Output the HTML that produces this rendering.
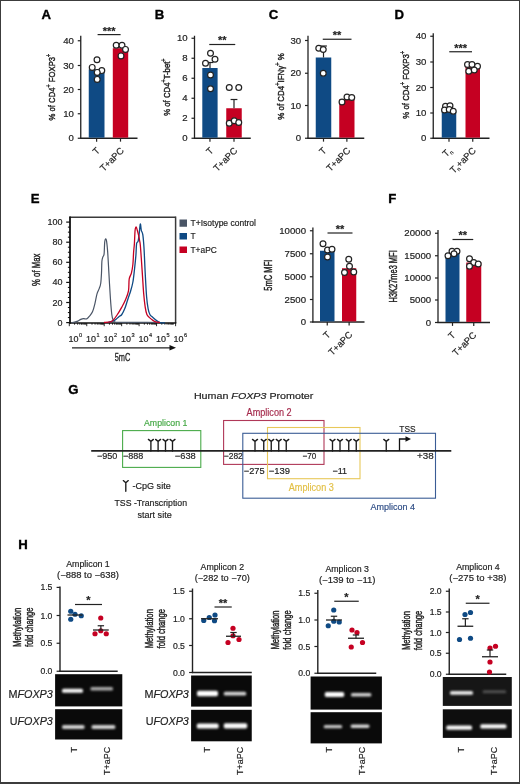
<!DOCTYPE html>
<html><head><meta charset="utf-8"><style>
html,body{margin:0;padding:0;background:#fff;}
body{width:520px;height:784px;overflow:hidden;position:relative;}
svg{position:absolute;left:0;top:0;font-family:"Liberation Sans", sans-serif;will-change:transform;}
.frame{position:absolute;left:0;top:0;width:518px;height:781px;border:1px solid #3c3c3c;border-bottom:2px solid #3c3c3c;}
</style></head><body>
<svg width="520" height="784" viewBox="0 0 520 784">
<text x="41.5" y="19.3" font-size="13.2" text-anchor="start" font-weight="bold" fill="#000" stroke="#000" stroke-width="0.35">A</text>
<line x1="80.75" y1="35.75" x2="80.75" y2="138.85" stroke="#222" stroke-width="1.3" />
<line x1="80.15" y1="138.25" x2="137.5" y2="138.25" stroke="#222" stroke-width="1.3" />
<line x1="77.75" y1="138.25" x2="80.75" y2="138.25" stroke="#222" stroke-width="1.2" />
<text x="73.85" y="141.25" font-size="8.4" text-anchor="end" font-weight="normal" fill="#222" stroke="#222" stroke-width="0.18" textLength="5.35" lengthAdjust="spacingAndGlyphs" >0</text>
<line x1="77.75" y1="113.75" x2="80.75" y2="113.75" stroke="#222" stroke-width="1.2" />
<text x="73.85" y="116.75" font-size="8.4" text-anchor="end" font-weight="normal" fill="#222" stroke="#222" stroke-width="0.18" textLength="10.7" lengthAdjust="spacingAndGlyphs" >10</text>
<line x1="77.75" y1="89.5" x2="80.75" y2="89.5" stroke="#222" stroke-width="1.2" />
<text x="73.85" y="92.5" font-size="8.4" text-anchor="end" font-weight="normal" fill="#222" stroke="#222" stroke-width="0.18" textLength="10.7" lengthAdjust="spacingAndGlyphs" >20</text>
<line x1="77.75" y1="65.5" x2="80.75" y2="65.5" stroke="#222" stroke-width="1.2" />
<text x="73.85" y="68.5" font-size="8.4" text-anchor="end" font-weight="normal" fill="#222" stroke="#222" stroke-width="0.18" textLength="10.7" lengthAdjust="spacingAndGlyphs" >30</text>
<line x1="77.75" y1="40.75" x2="80.75" y2="40.75" stroke="#222" stroke-width="1.2" />
<text x="73.85" y="43.75" font-size="8.4" text-anchor="end" font-weight="normal" fill="#222" stroke="#222" stroke-width="0.18" textLength="10.7" lengthAdjust="spacingAndGlyphs" >40</text>
<rect x="88.75" y="69.3" width="15.75" height="68.35000000000001" fill="#0f4a84"/>
<line x1="96.625" y1="138.25" x2="96.625" y2="141.65" stroke="#222" stroke-width="1.2" />
<rect x="112.8" y="48.2" width="15.399999999999991" height="89.45" fill="#c50022"/>
<line x1="120.5" y1="138.25" x2="120.5" y2="141.65" stroke="#222" stroke-width="1.2" />
<line x1="97.6" y1="34.6" x2="120.6" y2="34.6" stroke="#222" stroke-width="1.2" />
<text x="109.1" y="34.5" font-size="11" text-anchor="middle" font-weight="bold" fill="#222" stroke="#222" stroke-width="0.18" >***</text>
<circle cx="97" cy="59.7" r="2.9" fill="#fff" stroke="#222" stroke-width="1.2"/>
<circle cx="92.2" cy="67.4" r="2.9" fill="#fff" stroke="#222" stroke-width="1.2"/>
<circle cx="101.8" cy="70.6" r="2.9" fill="#fff" stroke="#222" stroke-width="1.2"/>
<circle cx="97.2" cy="72.4" r="2.9" fill="#fff" stroke="#222" stroke-width="1.2"/>
<circle cx="97.2" cy="79.4" r="2.9" fill="#fff" stroke="#222" stroke-width="1.2"/>
<circle cx="116.2" cy="45.3" r="2.9" fill="#fff" stroke="#222" stroke-width="1.2"/>
<circle cx="122" cy="45.3" r="2.9" fill="#fff" stroke="#222" stroke-width="1.2"/>
<circle cx="125.5" cy="49.4" r="2.9" fill="#fff" stroke="#222" stroke-width="1.2"/>
<circle cx="121" cy="55.9" r="2.9" fill="#fff" stroke="#222" stroke-width="1.2"/>
<text transform="translate(55.2,87.1) rotate(-90)" x="0" y="0" font-size="9.9" text-anchor="middle" fill="#222" stroke="#222" stroke-width="0.42" textLength="66.7" lengthAdjust="spacingAndGlyphs">% of CD4<tspan dy="-3.8" font-size="7">+</tspan><tspan dy="3.8"> FOXP3</tspan><tspan dy="-3.8" font-size="7">+</tspan></text>
<text transform="translate(100.5,151.3) rotate(-45)" x="0" y="0" font-size="9.3" text-anchor="end" fill="#222" stroke="#222" stroke-width="0.18">T</text>
<text transform="translate(124.5,151.3) rotate(-45)" x="0" y="0" font-size="9.3" text-anchor="end" fill="#222" stroke="#222" stroke-width="0.18">T+aPC</text>
<text x="154.8" y="19.3" font-size="13.2" text-anchor="start" font-weight="bold" fill="#000" stroke="#000" stroke-width="0.35">B</text>
<line x1="194.5" y1="35.75" x2="194.5" y2="138.85" stroke="#222" stroke-width="1.3" />
<line x1="193.9" y1="138.25" x2="250.75" y2="138.25" stroke="#222" stroke-width="1.3" />
<line x1="191.5" y1="138.25" x2="194.5" y2="138.25" stroke="#222" stroke-width="1.2" />
<text x="187.6" y="141.25" font-size="8.4" text-anchor="end" font-weight="normal" fill="#222" stroke="#222" stroke-width="0.18" textLength="5.35" lengthAdjust="spacingAndGlyphs" >0</text>
<line x1="191.5" y1="118.25" x2="194.5" y2="118.25" stroke="#222" stroke-width="1.2" />
<text x="187.6" y="121.25" font-size="8.4" text-anchor="end" font-weight="normal" fill="#222" stroke="#222" stroke-width="0.18" textLength="5.35" lengthAdjust="spacingAndGlyphs" >2</text>
<line x1="191.5" y1="98.25" x2="194.5" y2="98.25" stroke="#222" stroke-width="1.2" />
<text x="187.6" y="101.25" font-size="8.4" text-anchor="end" font-weight="normal" fill="#222" stroke="#222" stroke-width="0.18" textLength="5.35" lengthAdjust="spacingAndGlyphs" >4</text>
<line x1="191.5" y1="78.25" x2="194.5" y2="78.25" stroke="#222" stroke-width="1.2" />
<text x="187.6" y="81.25" font-size="8.4" text-anchor="end" font-weight="normal" fill="#222" stroke="#222" stroke-width="0.18" textLength="5.35" lengthAdjust="spacingAndGlyphs" >6</text>
<line x1="191.5" y1="58.25" x2="194.5" y2="58.25" stroke="#222" stroke-width="1.2" />
<text x="187.6" y="61.25" font-size="8.4" text-anchor="end" font-weight="normal" fill="#222" stroke="#222" stroke-width="0.18" textLength="5.35" lengthAdjust="spacingAndGlyphs" >8</text>
<line x1="191.5" y1="38.25" x2="194.5" y2="38.25" stroke="#222" stroke-width="1.2" />
<text x="187.6" y="41.25" font-size="8.4" text-anchor="end" font-weight="normal" fill="#222" stroke="#222" stroke-width="0.18" textLength="10.7" lengthAdjust="spacingAndGlyphs" >10</text>
<rect x="202.3" y="68" width="15.299999999999983" height="69.65" fill="#0f4a84"/>
<line x1="209.95" y1="138.25" x2="209.95" y2="141.65" stroke="#222" stroke-width="1.2" />
<rect x="226.25" y="108.25" width="15.5" height="29.400000000000006" fill="#c50022"/>
<line x1="234.0" y1="138.25" x2="234.0" y2="141.65" stroke="#222" stroke-width="1.2" />
<line x1="209.25" y1="44.5" x2="235.25" y2="44.5" stroke="#222" stroke-width="1.2" />
<text x="222.25" y="44.4" font-size="11" text-anchor="middle" font-weight="bold" fill="#222" stroke="#222" stroke-width="0.18" >**</text>
<line x1="210" y1="62.5" x2="210" y2="68" stroke="#222" stroke-width="1.2" />
<line x1="206.6" y1="62.5" x2="213.4" y2="62.5" stroke="#222" stroke-width="1.2" />
<line x1="234" y1="99.5" x2="234" y2="108.25" stroke="#222" stroke-width="1.2" />
<line x1="230.6" y1="99.5" x2="237.4" y2="99.5" stroke="#222" stroke-width="1.2" />
<circle cx="210.5" cy="53.25" r="2.9" fill="#fff" stroke="#222" stroke-width="1.2"/>
<circle cx="205.5" cy="63.25" r="2.9" fill="#fff" stroke="#222" stroke-width="1.2"/>
<circle cx="215" cy="59.25" r="2.9" fill="#fff" stroke="#222" stroke-width="1.2"/>
<circle cx="210.5" cy="75" r="2.9" fill="#fff" stroke="#222" stroke-width="1.2"/>
<circle cx="210.5" cy="88.75" r="2.9" fill="#fff" stroke="#222" stroke-width="1.2"/>
<circle cx="229.25" cy="87.5" r="2.9" fill="#fff" stroke="#222" stroke-width="1.2"/>
<circle cx="238.75" cy="87.5" r="2.9" fill="#fff" stroke="#222" stroke-width="1.2"/>
<circle cx="229.25" cy="123.25" r="2.9" fill="#fff" stroke="#222" stroke-width="1.2"/>
<circle cx="234.25" cy="120.75" r="2.9" fill="#fff" stroke="#222" stroke-width="1.2"/>
<circle cx="238.75" cy="122.5" r="2.9" fill="#fff" stroke="#222" stroke-width="1.2"/>
<text transform="translate(169.8,87.1) rotate(-90)" x="0" y="0" font-size="9.9" text-anchor="middle" fill="#222" stroke="#222" stroke-width="0.42" textLength="57.4" lengthAdjust="spacingAndGlyphs">% of CD4<tspan dy="-3.8" font-size="7">+</tspan><tspan dy="3.8">T-bet</tspan><tspan dy="-3.8" font-size="7">+</tspan></text>
<text transform="translate(214,151.3) rotate(-45)" x="0" y="0" font-size="9.3" text-anchor="end" fill="#222" stroke="#222" stroke-width="0.18">T</text>
<text transform="translate(238,151.3) rotate(-45)" x="0" y="0" font-size="9.3" text-anchor="end" fill="#222" stroke="#222" stroke-width="0.18">T+aPC</text>
<text x="268.8" y="19.3" font-size="13.2" text-anchor="start" font-weight="bold" fill="#000" stroke="#000" stroke-width="0.35">C</text>
<line x1="308" y1="35.75" x2="308" y2="138.85" stroke="#222" stroke-width="1.3" />
<line x1="307.4" y1="138.25" x2="364.25" y2="138.25" stroke="#222" stroke-width="1.3" />
<line x1="305" y1="138.25" x2="308" y2="138.25" stroke="#222" stroke-width="1.2" />
<text x="301.1" y="141.25" font-size="8.4" text-anchor="end" font-weight="normal" fill="#222" stroke="#222" stroke-width="0.18" textLength="5.35" lengthAdjust="spacingAndGlyphs" >0</text>
<line x1="305" y1="105.5" x2="308" y2="105.5" stroke="#222" stroke-width="1.2" />
<text x="301.1" y="108.5" font-size="8.4" text-anchor="end" font-weight="normal" fill="#222" stroke="#222" stroke-width="0.18" textLength="10.7" lengthAdjust="spacingAndGlyphs" >10</text>
<line x1="305" y1="73.25" x2="308" y2="73.25" stroke="#222" stroke-width="1.2" />
<text x="301.1" y="76.25" font-size="8.4" text-anchor="end" font-weight="normal" fill="#222" stroke="#222" stroke-width="0.18" textLength="10.7" lengthAdjust="spacingAndGlyphs" >20</text>
<line x1="305" y1="40.5" x2="308" y2="40.5" stroke="#222" stroke-width="1.2" />
<text x="301.1" y="43.5" font-size="8.4" text-anchor="end" font-weight="normal" fill="#222" stroke="#222" stroke-width="0.18" textLength="10.7" lengthAdjust="spacingAndGlyphs" >30</text>
<rect x="315.75" y="57.5" width="15.5" height="80.15" fill="#0f4a84"/>
<line x1="323.5" y1="138.25" x2="323.5" y2="141.65" stroke="#222" stroke-width="1.2" />
<rect x="339.25" y="99.25" width="15.25" height="38.400000000000006" fill="#c50022"/>
<line x1="346.875" y1="138.25" x2="346.875" y2="141.65" stroke="#222" stroke-width="1.2" />
<line x1="322.75" y1="39.25" x2="351.5" y2="39.25" stroke="#222" stroke-width="1.2" />
<text x="337.125" y="39.15" font-size="11" text-anchor="middle" font-weight="bold" fill="#222" stroke="#222" stroke-width="0.18" >**</text>
<line x1="323.5" y1="46" x2="323.5" y2="57.5" stroke="#222" stroke-width="1.2" />
<line x1="320.1" y1="46" x2="326.9" y2="46" stroke="#222" stroke-width="1.2" />
<circle cx="318.75" cy="48.25" r="2.9" fill="#fff" stroke="#222" stroke-width="1.2"/>
<circle cx="323.25" cy="49.5" r="2.9" fill="#fff" stroke="#222" stroke-width="1.2"/>
<circle cx="323.25" cy="73.25" r="2.9" fill="#fff" stroke="#222" stroke-width="1.2"/>
<circle cx="342" cy="102" r="2.9" fill="#fff" stroke="#222" stroke-width="1.2"/>
<circle cx="347" cy="97" r="2.9" fill="#fff" stroke="#222" stroke-width="1.2"/>
<circle cx="351.75" cy="97.5" r="2.9" fill="#fff" stroke="#222" stroke-width="1.2"/>
<text transform="translate(283.5,86.5) rotate(-90)" x="0" y="0" font-size="9.9" text-anchor="middle" fill="#222" stroke="#222" stroke-width="0.42" textLength="66.6" lengthAdjust="spacingAndGlyphs">% of CD4<tspan dy="-3.8" font-size="7">+</tspan><tspan dy="3.8">IFNγ</tspan><tspan dy="-3.8" font-size="7">+</tspan><tspan dy="3.8"> %</tspan></text>
<text transform="translate(327,151.3) rotate(-45)" x="0" y="0" font-size="9.3" text-anchor="end" fill="#222" stroke="#222" stroke-width="0.18">T</text>
<text transform="translate(351,151.3) rotate(-45)" x="0" y="0" font-size="9.3" text-anchor="end" fill="#222" stroke="#222" stroke-width="0.18">T+aPC</text>
<text x="394.5" y="19.3" font-size="13.2" text-anchor="start" font-weight="bold" fill="#000" stroke="#000" stroke-width="0.35">D</text>
<line x1="433.25" y1="33.25" x2="433.25" y2="138.85" stroke="#222" stroke-width="1.3" />
<line x1="432.65" y1="138.25" x2="489.5" y2="138.25" stroke="#222" stroke-width="1.3" />
<line x1="430.25" y1="138.25" x2="433.25" y2="138.25" stroke="#222" stroke-width="1.2" />
<text x="426.35" y="141.25" font-size="8.4" text-anchor="end" font-weight="normal" fill="#222" stroke="#222" stroke-width="0.18" textLength="5.35" lengthAdjust="spacingAndGlyphs" >0</text>
<line x1="430.25" y1="113" x2="433.25" y2="113" stroke="#222" stroke-width="1.2" />
<text x="426.35" y="116.0" font-size="8.4" text-anchor="end" font-weight="normal" fill="#222" stroke="#222" stroke-width="0.18" textLength="10.7" lengthAdjust="spacingAndGlyphs" >10</text>
<line x1="430.25" y1="87.5" x2="433.25" y2="87.5" stroke="#222" stroke-width="1.2" />
<text x="426.35" y="90.5" font-size="8.4" text-anchor="end" font-weight="normal" fill="#222" stroke="#222" stroke-width="0.18" textLength="10.7" lengthAdjust="spacingAndGlyphs" >20</text>
<line x1="430.25" y1="62" x2="433.25" y2="62" stroke="#222" stroke-width="1.2" />
<text x="426.35" y="65.0" font-size="8.4" text-anchor="end" font-weight="normal" fill="#222" stroke="#222" stroke-width="0.18" textLength="10.7" lengthAdjust="spacingAndGlyphs" >30</text>
<line x1="430.25" y1="36.25" x2="433.25" y2="36.25" stroke="#222" stroke-width="1.2" />
<text x="426.35" y="39.25" font-size="8.4" text-anchor="end" font-weight="normal" fill="#222" stroke="#222" stroke-width="0.18" textLength="10.7" lengthAdjust="spacingAndGlyphs" >40</text>
<rect x="441.75" y="111.25" width="14.5" height="26.400000000000006" fill="#0f4a84"/>
<line x1="449.0" y1="138.25" x2="449.0" y2="141.65" stroke="#222" stroke-width="1.2" />
<rect x="465.5" y="66.25" width="14.5" height="71.4" fill="#c50022"/>
<line x1="472.75" y1="138.25" x2="472.75" y2="141.65" stroke="#222" stroke-width="1.2" />
<line x1="449.25" y1="51.75" x2="472" y2="51.75" stroke="#222" stroke-width="1.2" />
<text x="460.625" y="51.65" font-size="11" text-anchor="middle" font-weight="bold" fill="#222" stroke="#222" stroke-width="0.18" >***</text>
<circle cx="445.5" cy="106.25" r="2.9" fill="#fff" stroke="#222" stroke-width="1.2"/>
<circle cx="450" cy="105.75" r="2.9" fill="#fff" stroke="#222" stroke-width="1.2"/>
<circle cx="444.5" cy="110" r="2.9" fill="#fff" stroke="#222" stroke-width="1.2"/>
<circle cx="449.25" cy="109.5" r="2.9" fill="#fff" stroke="#222" stroke-width="1.2"/>
<circle cx="453.25" cy="111.25" r="2.9" fill="#fff" stroke="#222" stroke-width="1.2"/>
<circle cx="467.5" cy="64.5" r="2.9" fill="#fff" stroke="#222" stroke-width="1.2"/>
<circle cx="472" cy="64.5" r="2.9" fill="#fff" stroke="#222" stroke-width="1.2"/>
<circle cx="477.5" cy="66.25" r="2.9" fill="#fff" stroke="#222" stroke-width="1.2"/>
<circle cx="468.75" cy="71.25" r="2.9" fill="#fff" stroke="#222" stroke-width="1.2"/>
<circle cx="474.25" cy="70" r="2.9" fill="#fff" stroke="#222" stroke-width="1.2"/>
<text transform="translate(408.5,84.8) rotate(-90)" x="0" y="0" font-size="9.9" text-anchor="middle" fill="#222" stroke="#222" stroke-width="0.42" textLength="67.7" lengthAdjust="spacingAndGlyphs">% of CD4<tspan dy="-3.8" font-size="7">+</tspan><tspan dy="3.8"> FOXP3</tspan><tspan dy="-3.8" font-size="7">+</tspan></text>
<text transform="translate(452.5,151.3) rotate(-45)" x="0" y="0" font-size="9.3" text-anchor="end" fill="#222" stroke="#222" stroke-width="0.18">T<tspan dy="2" font-size="5.5">n</tspan></text>
<text transform="translate(476.5,151.3) rotate(-45)" x="0" y="0" font-size="9.3" text-anchor="end" fill="#222" stroke="#222" stroke-width="0.18">T<tspan dy="2" font-size="5.5">n</tspan><tspan dy="-2">+aPC</tspan></text>
<text x="30.8" y="203" font-size="13.2" text-anchor="start" font-weight="bold" fill="#000" stroke="#000" stroke-width="0.35">E</text>
<line x1="69.5" y1="217.2" x2="175.6" y2="217.2" stroke="#3a3a3a" stroke-width="1.5" />
<line x1="175.6" y1="216.5" x2="175.6" y2="323" stroke="#3a3a3a" stroke-width="1.5" />
<line x1="69.3" y1="323" x2="69.3" y2="326.2" stroke="#111" stroke-width="0.9" />
<line x1="74.55297342433647" y1="323" x2="74.55297342433647" y2="324.7" stroke="#111" stroke-width="0.9" />
<line x1="77.6257658948581" y1="323" x2="77.6257658948581" y2="324.7" stroke="#111" stroke-width="0.9" />
<line x1="79.80594684867295" y1="323" x2="79.80594684867295" y2="324.7" stroke="#111" stroke-width="0.9" />
<line x1="81.49702657566353" y1="323" x2="81.49702657566353" y2="324.7" stroke="#111" stroke-width="0.9" />
<line x1="82.87873931919458" y1="323" x2="82.87873931919458" y2="324.7" stroke="#111" stroke-width="0.9" />
<line x1="84.04696079824878" y1="323" x2="84.04696079824878" y2="324.7" stroke="#111" stroke-width="0.9" />
<line x1="85.0589202730094" y1="323" x2="85.0589202730094" y2="324.7" stroke="#111" stroke-width="0.9" />
<line x1="85.95153178971621" y1="323" x2="85.95153178971621" y2="324.7" stroke="#111" stroke-width="0.9" />
<line x1="86.75" y1="323" x2="86.75" y2="326.2" stroke="#111" stroke-width="0.9" />
<line x1="92.00297342433647" y1="323" x2="92.00297342433647" y2="324.7" stroke="#111" stroke-width="0.9" />
<line x1="95.07576589485811" y1="323" x2="95.07576589485811" y2="324.7" stroke="#111" stroke-width="0.9" />
<line x1="97.25594684867295" y1="323" x2="97.25594684867295" y2="324.7" stroke="#111" stroke-width="0.9" />
<line x1="98.94702657566353" y1="323" x2="98.94702657566353" y2="324.7" stroke="#111" stroke-width="0.9" />
<line x1="100.32873931919458" y1="323" x2="100.32873931919458" y2="324.7" stroke="#111" stroke-width="0.9" />
<line x1="101.49696079824878" y1="323" x2="101.49696079824878" y2="324.7" stroke="#111" stroke-width="0.9" />
<line x1="102.50892027300941" y1="323" x2="102.50892027300941" y2="324.7" stroke="#111" stroke-width="0.9" />
<line x1="103.40153178971622" y1="323" x2="103.40153178971622" y2="324.7" stroke="#111" stroke-width="0.9" />
<line x1="104.19999999999999" y1="323" x2="104.19999999999999" y2="326.2" stroke="#111" stroke-width="0.9" />
<line x1="109.45297342433646" y1="323" x2="109.45297342433646" y2="324.7" stroke="#111" stroke-width="0.9" />
<line x1="112.5257658948581" y1="323" x2="112.5257658948581" y2="324.7" stroke="#111" stroke-width="0.9" />
<line x1="114.70594684867294" y1="323" x2="114.70594684867294" y2="324.7" stroke="#111" stroke-width="0.9" />
<line x1="116.39702657566352" y1="323" x2="116.39702657566352" y2="324.7" stroke="#111" stroke-width="0.9" />
<line x1="117.77873931919457" y1="323" x2="117.77873931919457" y2="324.7" stroke="#111" stroke-width="0.9" />
<line x1="118.94696079824877" y1="323" x2="118.94696079824877" y2="324.7" stroke="#111" stroke-width="0.9" />
<line x1="119.9589202730094" y1="323" x2="119.9589202730094" y2="324.7" stroke="#111" stroke-width="0.9" />
<line x1="120.8515317897162" y1="323" x2="120.8515317897162" y2="324.7" stroke="#111" stroke-width="0.9" />
<line x1="121.64999999999999" y1="323" x2="121.64999999999999" y2="326.2" stroke="#111" stroke-width="0.9" />
<line x1="126.90297342433647" y1="323" x2="126.90297342433647" y2="324.7" stroke="#111" stroke-width="0.9" />
<line x1="129.9757658948581" y1="323" x2="129.9757658948581" y2="324.7" stroke="#111" stroke-width="0.9" />
<line x1="132.15594684867293" y1="323" x2="132.15594684867293" y2="324.7" stroke="#111" stroke-width="0.9" />
<line x1="133.8470265756635" y1="323" x2="133.8470265756635" y2="324.7" stroke="#111" stroke-width="0.9" />
<line x1="135.22873931919457" y1="323" x2="135.22873931919457" y2="324.7" stroke="#111" stroke-width="0.9" />
<line x1="136.39696079824878" y1="323" x2="136.39696079824878" y2="324.7" stroke="#111" stroke-width="0.9" />
<line x1="137.40892027300941" y1="323" x2="137.40892027300941" y2="324.7" stroke="#111" stroke-width="0.9" />
<line x1="138.30153178971622" y1="323" x2="138.30153178971622" y2="324.7" stroke="#111" stroke-width="0.9" />
<line x1="139.1" y1="323" x2="139.1" y2="326.2" stroke="#111" stroke-width="0.9" />
<line x1="144.35297342433645" y1="323" x2="144.35297342433645" y2="324.7" stroke="#111" stroke-width="0.9" />
<line x1="147.4257658948581" y1="323" x2="147.4257658948581" y2="324.7" stroke="#111" stroke-width="0.9" />
<line x1="149.60594684867294" y1="323" x2="149.60594684867294" y2="324.7" stroke="#111" stroke-width="0.9" />
<line x1="151.29702657566352" y1="323" x2="151.29702657566352" y2="324.7" stroke="#111" stroke-width="0.9" />
<line x1="152.67873931919456" y1="323" x2="152.67873931919456" y2="324.7" stroke="#111" stroke-width="0.9" />
<line x1="153.84696079824877" y1="323" x2="153.84696079824877" y2="324.7" stroke="#111" stroke-width="0.9" />
<line x1="154.8589202730094" y1="323" x2="154.8589202730094" y2="324.7" stroke="#111" stroke-width="0.9" />
<line x1="155.7515317897162" y1="323" x2="155.7515317897162" y2="324.7" stroke="#111" stroke-width="0.9" />
<line x1="156.55" y1="323" x2="156.55" y2="326.2" stroke="#111" stroke-width="0.9" />
<line x1="161.80297342433647" y1="323" x2="161.80297342433647" y2="324.7" stroke="#111" stroke-width="0.9" />
<line x1="164.87576589485812" y1="323" x2="164.87576589485812" y2="324.7" stroke="#111" stroke-width="0.9" />
<line x1="167.05594684867296" y1="323" x2="167.05594684867296" y2="324.7" stroke="#111" stroke-width="0.9" />
<line x1="168.74702657566354" y1="323" x2="168.74702657566354" y2="324.7" stroke="#111" stroke-width="0.9" />
<line x1="170.12873931919458" y1="323" x2="170.12873931919458" y2="324.7" stroke="#111" stroke-width="0.9" />
<line x1="171.2969607982488" y1="323" x2="171.2969607982488" y2="324.7" stroke="#111" stroke-width="0.9" />
<line x1="172.30892027300942" y1="323" x2="172.30892027300942" y2="324.7" stroke="#111" stroke-width="0.9" />
<line x1="173.20153178971623" y1="323" x2="173.20153178971623" y2="324.7" stroke="#111" stroke-width="0.9" />
<line x1="175.6" y1="323" x2="175.6" y2="326.2" stroke="#111" stroke-width="0.9" />
<line x1="70" y1="216.6" x2="70" y2="323.8" stroke="#111" stroke-width="1.8" />
<line x1="69.2" y1="323" x2="176.3" y2="323" stroke="#111" stroke-width="1.6" />
<line x1="66.2" y1="322.6" x2="70" y2="322.6" stroke="#111" stroke-width="1.2" />
<text x="62.6" y="325.6" font-size="8.4" text-anchor="end" font-weight="normal" fill="#222" stroke="#222" stroke-width="0.18" textLength="5.0" lengthAdjust="spacingAndGlyphs" >0</text>
<line x1="66.2" y1="302.5" x2="70" y2="302.5" stroke="#111" stroke-width="1.2" />
<text x="62.6" y="305.5" font-size="8.4" text-anchor="end" font-weight="normal" fill="#222" stroke="#222" stroke-width="0.18" textLength="10.0" lengthAdjust="spacingAndGlyphs" >20</text>
<line x1="66.2" y1="282.40000000000003" x2="70" y2="282.40000000000003" stroke="#111" stroke-width="1.2" />
<text x="62.6" y="285.40000000000003" font-size="8.4" text-anchor="end" font-weight="normal" fill="#222" stroke="#222" stroke-width="0.18" textLength="10.0" lengthAdjust="spacingAndGlyphs" >40</text>
<line x1="66.2" y1="262.3" x2="70" y2="262.3" stroke="#111" stroke-width="1.2" />
<text x="62.6" y="265.3" font-size="8.4" text-anchor="end" font-weight="normal" fill="#222" stroke="#222" stroke-width="0.18" textLength="10.0" lengthAdjust="spacingAndGlyphs" >60</text>
<line x1="66.2" y1="242.20000000000002" x2="70" y2="242.20000000000002" stroke="#111" stroke-width="1.2" />
<text x="62.6" y="245.20000000000002" font-size="8.4" text-anchor="end" font-weight="normal" fill="#222" stroke="#222" stroke-width="0.18" textLength="10.0" lengthAdjust="spacingAndGlyphs" >80</text>
<line x1="66.2" y1="222.10000000000002" x2="70" y2="222.10000000000002" stroke="#111" stroke-width="1.2" />
<text x="62.6" y="225.10000000000002" font-size="8.4" text-anchor="end" font-weight="normal" fill="#222" stroke="#222" stroke-width="0.18" textLength="15.0" lengthAdjust="spacingAndGlyphs" >100</text>
<line x1="67.9" y1="317.57500000000005" x2="70" y2="317.57500000000005" stroke="#111" stroke-width="1.0" />
<line x1="67.9" y1="312.55" x2="70" y2="312.55" stroke="#111" stroke-width="1.0" />
<line x1="67.9" y1="307.52500000000003" x2="70" y2="307.52500000000003" stroke="#111" stroke-width="1.0" />
<line x1="67.9" y1="297.475" x2="70" y2="297.475" stroke="#111" stroke-width="1.0" />
<line x1="67.9" y1="292.45000000000005" x2="70" y2="292.45000000000005" stroke="#111" stroke-width="1.0" />
<line x1="67.9" y1="287.425" x2="70" y2="287.425" stroke="#111" stroke-width="1.0" />
<line x1="67.9" y1="277.375" x2="70" y2="277.375" stroke="#111" stroke-width="1.0" />
<line x1="67.9" y1="272.35" x2="70" y2="272.35" stroke="#111" stroke-width="1.0" />
<line x1="67.9" y1="267.32500000000005" x2="70" y2="267.32500000000005" stroke="#111" stroke-width="1.0" />
<line x1="67.9" y1="257.27500000000003" x2="70" y2="257.27500000000003" stroke="#111" stroke-width="1.0" />
<line x1="67.9" y1="252.25" x2="70" y2="252.25" stroke="#111" stroke-width="1.0" />
<line x1="67.9" y1="247.22500000000002" x2="70" y2="247.22500000000002" stroke="#111" stroke-width="1.0" />
<line x1="67.9" y1="237.175" x2="70" y2="237.175" stroke="#111" stroke-width="1.0" />
<line x1="67.9" y1="232.15000000000003" x2="70" y2="232.15000000000003" stroke="#111" stroke-width="1.0" />
<line x1="67.9" y1="227.125" x2="70" y2="227.125" stroke="#111" stroke-width="1.0" />
<text x="73.60000000000001" y="342" font-size="8.4" text-anchor="middle" font-weight="normal" fill="#222" stroke="#222" stroke-width="0.18" textLength="10" lengthAdjust="spacingAndGlyphs" >10</text>
<text x="79.0" y="336.8" font-size="5.6" text-anchor="start" font-weight="normal" fill="#222" stroke="#222" stroke-width="0.18" >0</text>
<text x="91.10000000000001" y="342" font-size="8.4" text-anchor="middle" font-weight="normal" fill="#222" stroke="#222" stroke-width="0.18" textLength="10" lengthAdjust="spacingAndGlyphs" >10</text>
<text x="96.5" y="336.8" font-size="5.6" text-anchor="start" font-weight="normal" fill="#222" stroke="#222" stroke-width="0.18" >1</text>
<text x="108.60000000000001" y="342" font-size="8.4" text-anchor="middle" font-weight="normal" fill="#222" stroke="#222" stroke-width="0.18" textLength="10" lengthAdjust="spacingAndGlyphs" >10</text>
<text x="114.0" y="336.8" font-size="5.6" text-anchor="start" font-weight="normal" fill="#222" stroke="#222" stroke-width="0.18" >2</text>
<text x="126.10000000000001" y="342" font-size="8.4" text-anchor="middle" font-weight="normal" fill="#222" stroke="#222" stroke-width="0.18" textLength="10" lengthAdjust="spacingAndGlyphs" >10</text>
<text x="131.5" y="336.8" font-size="5.6" text-anchor="start" font-weight="normal" fill="#222" stroke="#222" stroke-width="0.18" >3</text>
<text x="143.6" y="342" font-size="8.4" text-anchor="middle" font-weight="normal" fill="#222" stroke="#222" stroke-width="0.18" textLength="10" lengthAdjust="spacingAndGlyphs" >10</text>
<text x="149.0" y="336.8" font-size="5.6" text-anchor="start" font-weight="normal" fill="#222" stroke="#222" stroke-width="0.18" >4</text>
<text x="161.1" y="342" font-size="8.4" text-anchor="middle" font-weight="normal" fill="#222" stroke="#222" stroke-width="0.18" textLength="10" lengthAdjust="spacingAndGlyphs" >10</text>
<text x="166.5" y="336.8" font-size="5.6" text-anchor="start" font-weight="normal" fill="#222" stroke="#222" stroke-width="0.18" >5</text>
<text x="178.6" y="342" font-size="8.4" text-anchor="middle" font-weight="normal" fill="#222" stroke="#222" stroke-width="0.18" textLength="10" lengthAdjust="spacingAndGlyphs" >10</text>
<text x="184.0" y="336.8" font-size="5.6" text-anchor="start" font-weight="normal" fill="#222" stroke="#222" stroke-width="0.18" >6</text>
<path d="M71.50,322.60 C72.00,322.53 73.45,322.45 74.50,322.20 C75.55,321.95 76.75,321.57 77.80,321.10 C78.85,320.63 79.82,319.80 80.80,319.40 C81.78,319.00 82.72,318.78 83.70,318.70 C84.68,318.62 85.72,319.35 86.70,318.90 C87.68,318.45 88.62,317.23 89.60,316.00 C90.58,314.77 91.73,313.48 92.60,311.50 C93.47,309.52 94.07,307.05 94.80,304.10 C95.53,301.15 96.27,296.38 97.00,293.80 C97.73,291.22 98.58,290.32 99.20,288.60 C99.82,286.88 100.32,286.08 100.70,283.50 C101.08,280.92 101.30,276.80 101.50,273.10 C101.70,269.40 101.67,264.00 101.90,261.30 C102.13,258.60 102.53,258.13 102.90,256.90 C103.27,255.67 103.80,256.37 104.10,253.90 C104.40,251.43 104.45,244.62 104.70,242.10 C104.95,239.58 105.28,238.93 105.60,238.80 C105.92,238.67 106.25,239.03 106.60,241.30 C106.95,243.57 107.32,247.10 107.70,252.40 C108.08,257.70 108.47,265.70 108.90,273.10 C109.33,280.50 109.82,289.90 110.30,296.80 C110.78,303.70 111.30,310.57 111.80,314.50 C112.30,318.43 112.80,319.17 113.30,320.40 C113.80,321.63 114.02,321.57 114.80,321.90 C115.58,322.23 113.80,322.32 118.00,322.40 C122.20,322.48 133.00,322.38 140.00,322.40 C147.00,322.42 156.67,322.48 160.00,322.50" fill="none" stroke="#4a5566" stroke-width="1.2" stroke-linejoin="round"/>
<path d="M108.00,322.50 C109.07,322.15 112.58,321.37 114.40,320.40 C116.22,319.43 117.67,317.68 118.90,316.70 C120.13,315.72 120.82,315.85 121.80,314.50 C122.78,313.15 123.82,311.07 124.80,308.60 C125.78,306.13 126.72,302.67 127.70,299.70 C128.68,296.73 129.83,293.75 130.70,290.80 C131.57,287.85 132.28,285.43 132.90,282.00 C133.52,278.57 133.90,274.63 134.40,270.20 C134.90,265.77 135.53,259.83 135.90,255.40 C136.27,250.97 136.23,245.95 136.60,243.60 C136.97,241.25 137.68,242.78 138.10,241.30 C138.52,239.82 138.73,237.58 139.10,234.70 C139.47,231.82 139.93,224.73 140.30,224.00 C140.67,223.27 140.88,228.52 141.30,230.30 C141.72,232.08 142.35,231.75 142.80,234.70 C143.25,237.65 143.60,241.60 144.00,248.00 C144.40,254.40 144.77,264.97 145.20,273.10 C145.63,281.23 146.12,290.88 146.60,296.80 C147.08,302.72 147.55,305.65 148.10,308.60 C148.65,311.55 149.10,313.03 149.90,314.50 C150.70,315.97 151.67,316.30 152.90,317.40 C154.13,318.50 156.08,320.23 157.30,321.10 C158.52,321.97 158.92,322.32 160.20,322.60 C161.48,322.88 164.20,322.77 165.00,322.80" fill="none" stroke="#0f4a84" stroke-width="1.3" stroke-linejoin="round"/>
<path d="M104.00,322.50 C105.05,322.40 108.80,322.25 110.30,321.90 C111.80,321.55 111.82,321.63 113.00,320.40 C114.18,319.17 115.93,316.72 117.40,314.50 C118.87,312.28 120.45,309.57 121.80,307.10 C123.15,304.63 124.38,302.42 125.50,299.70 C126.62,296.98 127.88,294.25 128.50,290.80 C129.12,287.35 128.72,281.95 129.20,279.00 C129.68,276.05 130.78,275.57 131.40,273.10 C132.02,270.63 132.53,267.65 132.90,264.20 C133.27,260.75 133.35,255.83 133.60,252.40 C133.85,248.97 134.15,247.28 134.40,243.60 C134.65,239.92 134.80,233.07 135.10,230.30 C135.40,227.53 135.83,227.00 136.20,227.00 C136.57,227.00 136.87,228.77 137.30,230.30 C137.73,231.83 138.42,234.48 138.80,236.20 C139.18,237.92 139.35,239.13 139.60,240.60 C139.85,242.07 140.02,242.05 140.30,245.00 C140.58,247.95 140.93,253.12 141.30,258.30 C141.67,263.48 142.10,270.18 142.50,276.10 C142.90,282.02 143.25,288.63 143.70,293.80 C144.15,298.97 144.67,303.65 145.20,307.10 C145.73,310.55 146.23,312.78 146.90,314.50 C147.57,316.22 148.20,316.42 149.20,317.40 C150.20,318.38 151.80,319.65 152.90,320.40 C154.00,321.15 154.62,321.55 155.80,321.90 C156.98,322.25 159.30,322.40 160.00,322.50" fill="none" stroke="#c50022" stroke-width="1.3" stroke-linejoin="round"/>
<text transform="translate(39.6,269.8) rotate(-90)" x="0" y="0" font-size="10" text-anchor="middle" fill="#222" stroke="#222" stroke-width="0.42" textLength="32.2" lengthAdjust="spacingAndGlyphs">% of Max</text>
<line x1="72" y1="347.8" x2="172" y2="347.8" stroke="#222" stroke-width="1.2" />
<path d="M176,347.8 L169.5,345 L169.5,350.6 Z" fill="#111"/>
<text x="122.5" y="360.8" font-size="10.5" text-anchor="middle" font-weight="normal" fill="#222" textLength="15.6" lengthAdjust="spacingAndGlyphs" stroke="#222" stroke-width="0.3">5mC</text>
<rect x="179.5" y="219.5" width="7.5" height="7.25" fill="#4a5566"/>
<rect x="179.5" y="233" width="7.5" height="6.5" fill="#0f4a84"/>
<rect x="179.5" y="246.5" width="7.5" height="6.5" fill="#c50022"/>
<text x="190.5" y="226" font-size="8.4" text-anchor="start" font-weight="normal" fill="#222" stroke="#222" stroke-width="0.18" textLength="65.5" lengthAdjust="spacingAndGlyphs" >T+Isotype control</text>
<text x="190.5" y="239.4" font-size="8.4" text-anchor="start" font-weight="normal" fill="#222" stroke="#222" stroke-width="0.18" >T</text>
<text x="190.5" y="252.8" font-size="8.4" text-anchor="start" font-weight="normal" fill="#222" stroke="#222" stroke-width="0.18" >T+aPC</text>
<line x1="312.9" y1="227.5" x2="312.9" y2="322.6" stroke="#222" stroke-width="1.3" />
<line x1="312.29999999999995" y1="322" x2="364.5" y2="322" stroke="#222" stroke-width="1.3" />
<line x1="309.9" y1="322" x2="312.9" y2="322" stroke="#222" stroke-width="1.2" />
<text x="306.0" y="325.0" font-size="8.4" text-anchor="end" font-weight="normal" fill="#222" stroke="#222" stroke-width="0.18" textLength="5.35" lengthAdjust="spacingAndGlyphs" >0</text>
<line x1="309.9" y1="299.5" x2="312.9" y2="299.5" stroke="#222" stroke-width="1.2" />
<text x="306.0" y="302.5" font-size="8.4" text-anchor="end" font-weight="normal" fill="#222" stroke="#222" stroke-width="0.18" textLength="21.4" lengthAdjust="spacingAndGlyphs" >2500</text>
<line x1="309.9" y1="276.75" x2="312.9" y2="276.75" stroke="#222" stroke-width="1.2" />
<text x="306.0" y="279.75" font-size="8.4" text-anchor="end" font-weight="normal" fill="#222" stroke="#222" stroke-width="0.18" textLength="21.4" lengthAdjust="spacingAndGlyphs" >5000</text>
<line x1="309.9" y1="253.75" x2="312.9" y2="253.75" stroke="#222" stroke-width="1.2" />
<text x="306.0" y="256.75" font-size="8.4" text-anchor="end" font-weight="normal" fill="#222" stroke="#222" stroke-width="0.18" textLength="21.4" lengthAdjust="spacingAndGlyphs" >7500</text>
<line x1="309.9" y1="230.75" x2="312.9" y2="230.75" stroke="#222" stroke-width="1.2" />
<text x="306.0" y="233.75" font-size="8.4" text-anchor="end" font-weight="normal" fill="#222" stroke="#222" stroke-width="0.18" textLength="26.75" lengthAdjust="spacingAndGlyphs" >10000</text>
<rect x="320" y="250.75" width="14.5" height="70.64999999999998" fill="#0f4a84"/>
<line x1="327.25" y1="322" x2="327.25" y2="325.4" stroke="#222" stroke-width="1.2" />
<rect x="342" y="268.25" width="14.25" height="53.14999999999998" fill="#c50022"/>
<line x1="349.125" y1="322" x2="349.125" y2="325.4" stroke="#222" stroke-width="1.2" />
<line x1="327.5" y1="233" x2="352.5" y2="233" stroke="#222" stroke-width="1.2" />
<text x="340.0" y="232.9" font-size="11" text-anchor="middle" font-weight="bold" fill="#222" stroke="#222" stroke-width="0.18" >**</text>
<circle cx="323" cy="243.75" r="2.9" fill="#fff" stroke="#222" stroke-width="1.2"/>
<circle cx="327.5" cy="250" r="2.9" fill="#fff" stroke="#222" stroke-width="1.2"/>
<circle cx="332" cy="249.25" r="2.9" fill="#fff" stroke="#222" stroke-width="1.2"/>
<circle cx="327.5" cy="257" r="2.9" fill="#fff" stroke="#222" stroke-width="1.2"/>
<circle cx="348.75" cy="259.25" r="2.9" fill="#fff" stroke="#222" stroke-width="1.2"/>
<circle cx="349.5" cy="266.25" r="2.9" fill="#fff" stroke="#222" stroke-width="1.2"/>
<circle cx="344.5" cy="272.5" r="2.9" fill="#fff" stroke="#222" stroke-width="1.2"/>
<circle cx="353.75" cy="272" r="2.9" fill="#fff" stroke="#222" stroke-width="1.2"/>
<text transform="translate(272,275.2) rotate(-90)" x="0" y="0" font-size="10.5" text-anchor="middle" fill="#222" stroke="#222" stroke-width="0.42" textLength="31.2" lengthAdjust="spacingAndGlyphs">5mC MFI</text>
<text transform="translate(331,335.3) rotate(-45)" x="0" y="0" font-size="9.3" text-anchor="end" fill="#222" stroke="#222" stroke-width="0.18">T</text>
<text transform="translate(353,335.3) rotate(-45)" x="0" y="0" font-size="9.3" text-anchor="end" fill="#222" stroke="#222" stroke-width="0.18">T+aPC</text>
<text x="388.3" y="203" font-size="13.2" text-anchor="start" font-weight="bold" fill="#000" stroke="#000" stroke-width="0.35">F</text>
<line x1="438" y1="230" x2="438" y2="323.1" stroke="#222" stroke-width="1.3" />
<line x1="437.4" y1="322.5" x2="490" y2="322.5" stroke="#222" stroke-width="1.3" />
<line x1="435" y1="322.5" x2="438" y2="322.5" stroke="#222" stroke-width="1.2" />
<text x="431.1" y="325.5" font-size="8.4" text-anchor="end" font-weight="normal" fill="#222" stroke="#222" stroke-width="0.18" textLength="5.35" lengthAdjust="spacingAndGlyphs" >0</text>
<line x1="435" y1="300" x2="438" y2="300" stroke="#222" stroke-width="1.2" />
<text x="431.1" y="303.0" font-size="8.4" text-anchor="end" font-weight="normal" fill="#222" stroke="#222" stroke-width="0.18" textLength="21.4" lengthAdjust="spacingAndGlyphs" >5000</text>
<line x1="435" y1="278" x2="438" y2="278" stroke="#222" stroke-width="1.2" />
<text x="431.1" y="281.0" font-size="8.4" text-anchor="end" font-weight="normal" fill="#222" stroke="#222" stroke-width="0.18" textLength="26.75" lengthAdjust="spacingAndGlyphs" >10000</text>
<line x1="435" y1="255.75" x2="438" y2="255.75" stroke="#222" stroke-width="1.2" />
<text x="431.1" y="258.75" font-size="8.4" text-anchor="end" font-weight="normal" fill="#222" stroke="#222" stroke-width="0.18" textLength="26.75" lengthAdjust="spacingAndGlyphs" >15000</text>
<line x1="435" y1="233.25" x2="438" y2="233.25" stroke="#222" stroke-width="1.2" />
<text x="431.1" y="236.25" font-size="8.4" text-anchor="end" font-weight="normal" fill="#222" stroke="#222" stroke-width="0.18" textLength="26.75" lengthAdjust="spacingAndGlyphs" >20000</text>
<rect x="445.5" y="253.75" width="14.0" height="68.14999999999998" fill="#0f4a84"/>
<line x1="452.5" y1="322.5" x2="452.5" y2="325.9" stroke="#222" stroke-width="1.2" />
<rect x="466.25" y="262.5" width="15.0" height="59.39999999999998" fill="#c50022"/>
<line x1="473.75" y1="322.5" x2="473.75" y2="325.9" stroke="#222" stroke-width="1.2" />
<line x1="452.5" y1="239.5" x2="473.25" y2="239.5" stroke="#222" stroke-width="1.2" />
<text x="462.875" y="239.4" font-size="11" text-anchor="middle" font-weight="bold" fill="#222" stroke="#222" stroke-width="0.18" >**</text>
<circle cx="448" cy="255.75" r="2.9" fill="#fff" stroke="#222" stroke-width="1.2"/>
<circle cx="452" cy="251.25" r="2.9" fill="#fff" stroke="#222" stroke-width="1.2"/>
<circle cx="457" cy="251.25" r="2.9" fill="#fff" stroke="#222" stroke-width="1.2"/>
<circle cx="454" cy="253.75" r="2.9" fill="#fff" stroke="#222" stroke-width="1.2"/>
<circle cx="469.5" cy="258.75" r="2.9" fill="#fff" stroke="#222" stroke-width="1.2"/>
<circle cx="473.75" cy="262.5" r="2.9" fill="#fff" stroke="#222" stroke-width="1.2"/>
<circle cx="478.25" cy="264" r="2.9" fill="#fff" stroke="#222" stroke-width="1.2"/>
<circle cx="469.5" cy="266.25" r="2.9" fill="#fff" stroke="#222" stroke-width="1.2"/>
<text transform="translate(397.2,276.4) rotate(-90)" x="0" y="0" font-size="10.5" text-anchor="middle" fill="#222" stroke="#222" stroke-width="0.42" textLength="52.2" lengthAdjust="spacingAndGlyphs">H3K27me3 MFI</text>
<text transform="translate(456,335.8) rotate(-45)" x="0" y="0" font-size="9.3" text-anchor="end" fill="#222" stroke="#222" stroke-width="0.18">T</text>
<text transform="translate(477,335.8) rotate(-45)" x="0" y="0" font-size="9.3" text-anchor="end" fill="#222" stroke="#222" stroke-width="0.18">T+aPC</text>
<text x="68.3" y="393.6" font-size="13.2" text-anchor="start" font-weight="bold" fill="#000" stroke="#000" stroke-width="0.35">G</text>
<text x="193.9" y="399.0" font-size="9.7" text-anchor="start" font-weight="normal" fill="#222" stroke="#222" stroke-width="0.18" textLength="119.5" lengthAdjust="spacingAndGlyphs" >Human <tspan font-style="italic">FOXP3</tspan> Promoter</text>
<rect x="122.6" y="430.6" width="78.20000000000002" height="36.799999999999955" fill="none" stroke="#4aab4a" stroke-width="1.1"/>
<rect x="223.6" y="420.5" width="100.4" height="43.89999999999998" fill="none" stroke="#b03858" stroke-width="1.1"/>
<rect x="267.5" y="427.5" width="92.5" height="51.19999999999999" fill="none" stroke="#e8c85a" stroke-width="1.1"/>
<rect x="242.8" y="433.3" width="192.7" height="64.89999999999998" fill="none" stroke="#3a5c95" stroke-width="1.1"/>
<text x="144" y="425.6" font-size="9.2" text-anchor="start" font-weight="normal" fill="#45a845" stroke="#45a845" stroke-width="0.18" textLength="43.3" lengthAdjust="spacingAndGlyphs" >Amplicon 1</text>
<text x="246.6" y="415.6" font-size="10.2" text-anchor="start" font-weight="normal" fill="#a52a4c" stroke="#a52a4c" stroke-width="0.18" textLength="45" lengthAdjust="spacingAndGlyphs" >Amplicon 2</text>
<text x="288.8" y="490.6" font-size="10" text-anchor="start" font-weight="normal" fill="#e2bf45" stroke="#e2bf45" stroke-width="0.18" textLength="45" lengthAdjust="spacingAndGlyphs" >Amplicon 3</text>
<text x="370.5" y="509.6" font-size="9.8" text-anchor="start" font-weight="normal" fill="#2e4d85" stroke="#2e4d85" stroke-width="0.18" textLength="44.5" lengthAdjust="spacingAndGlyphs" >Amplicon 4</text>
<line x1="91.2" y1="450.8" x2="451.3" y2="450.8" stroke="#222" stroke-width="1.7" />
<path d="M150.9,451 L150.9,441.4 M148.4,439.4 L150.9,441.4 L153.4,439.4" fill="none" stroke="#1a1a1a" stroke-width="1.35" stroke-linejoin="round" stroke-linecap="round"/>
<path d="M158.1,451 L158.1,441.4 M155.6,439.4 L158.1,441.4 L160.6,439.4" fill="none" stroke="#1a1a1a" stroke-width="1.35" stroke-linejoin="round" stroke-linecap="round"/>
<path d="M165.5,451 L165.5,441.4 M163.0,439.4 L165.5,441.4 L168.0,439.4" fill="none" stroke="#1a1a1a" stroke-width="1.35" stroke-linejoin="round" stroke-linecap="round"/>
<path d="M172.5,451 L172.5,441.4 M170.0,439.4 L172.5,441.4 L175.0,439.4" fill="none" stroke="#1a1a1a" stroke-width="1.35" stroke-linejoin="round" stroke-linecap="round"/>
<path d="M255,451 L255,441.4 M252.5,439.4 L255,441.4 L257.5,439.4" fill="none" stroke="#1a1a1a" stroke-width="1.35" stroke-linejoin="round" stroke-linecap="round"/>
<path d="M263.75,451 L263.75,441.4 M261.25,439.4 L263.75,441.4 L266.25,439.4" fill="none" stroke="#1a1a1a" stroke-width="1.35" stroke-linejoin="round" stroke-linecap="round"/>
<path d="M271.25,451 L271.25,441.4 M268.75,439.4 L271.25,441.4 L273.75,439.4" fill="none" stroke="#1a1a1a" stroke-width="1.35" stroke-linejoin="round" stroke-linecap="round"/>
<path d="M278.75,451 L278.75,441.4 M276.25,439.4 L278.75,441.4 L281.25,439.4" fill="none" stroke="#1a1a1a" stroke-width="1.35" stroke-linejoin="round" stroke-linecap="round"/>
<path d="M286.25,451 L286.25,441.4 M283.75,439.4 L286.25,441.4 L288.75,439.4" fill="none" stroke="#1a1a1a" stroke-width="1.35" stroke-linejoin="round" stroke-linecap="round"/>
<path d="M332.5,451 L332.5,441.4 M330.0,439.4 L332.5,441.4 L335.0,439.4" fill="none" stroke="#1a1a1a" stroke-width="1.35" stroke-linejoin="round" stroke-linecap="round"/>
<path d="M340,451 L340,441.4 M337.5,439.4 L340,441.4 L342.5,439.4" fill="none" stroke="#1a1a1a" stroke-width="1.35" stroke-linejoin="round" stroke-linecap="round"/>
<path d="M348.75,451 L348.75,441.4 M346.25,439.4 L348.75,441.4 L351.25,439.4" fill="none" stroke="#1a1a1a" stroke-width="1.35" stroke-linejoin="round" stroke-linecap="round"/>
<path d="M356.25,451 L356.25,441.4 M353.75,439.4 L356.25,441.4 L358.75,439.4" fill="none" stroke="#1a1a1a" stroke-width="1.35" stroke-linejoin="round" stroke-linecap="round"/>
<path d="M386.25,451 L386.25,441.4 M383.75,439.4 L386.25,441.4 L388.75,439.4" fill="none" stroke="#1a1a1a" stroke-width="1.35" stroke-linejoin="round" stroke-linecap="round"/>
<path d="M399.5,451 L399.5,439 L406.5,439" fill="none" stroke="#111" stroke-width="1.3"/>
<path d="M411,439 L405.5,436.2 L405.5,441.8 Z" fill="#111"/>
<text x="399.3" y="431.6" font-size="9.6" text-anchor="start" font-weight="normal" fill="#222" stroke="#222" stroke-width="0.18" textLength="16.3" lengthAdjust="spacingAndGlyphs" >TSS</text>
<text x="97" y="459.4" font-size="9" text-anchor="start" font-weight="normal" fill="#222" stroke="#222" stroke-width="0.18" textLength="20.4" lengthAdjust="spacingAndGlyphs" >−950</text>
<text x="122.9" y="459.4" font-size="9" text-anchor="start" font-weight="normal" fill="#222" stroke="#222" stroke-width="0.18" textLength="20.4" lengthAdjust="spacingAndGlyphs" >−888</text>
<text x="174.8" y="459.4" font-size="9" text-anchor="start" font-weight="normal" fill="#222" stroke="#222" stroke-width="0.18" textLength="21" lengthAdjust="spacingAndGlyphs" >−638</text>
<text x="223.8" y="459.4" font-size="9" text-anchor="start" font-weight="normal" fill="#222" stroke="#222" stroke-width="0.18" textLength="19" lengthAdjust="spacingAndGlyphs" >−282</text>
<text x="302.5" y="459.4" font-size="9" text-anchor="start" font-weight="normal" fill="#222" stroke="#222" stroke-width="0.18" textLength="13.7" lengthAdjust="spacingAndGlyphs" >−70</text>
<text x="243.8" y="473.5" font-size="9" text-anchor="start" font-weight="normal" fill="#222" stroke="#222" stroke-width="0.18" textLength="20.7" lengthAdjust="spacingAndGlyphs" >−275</text>
<text x="268.8" y="473.5" font-size="9" text-anchor="start" font-weight="normal" fill="#222" stroke="#222" stroke-width="0.18" textLength="21.2" lengthAdjust="spacingAndGlyphs" >−139</text>
<text x="332.5" y="473.5" font-size="9" text-anchor="start" font-weight="normal" fill="#222" stroke="#222" stroke-width="0.18" textLength="14.5" lengthAdjust="spacingAndGlyphs" >−11</text>
<text x="417" y="459.4" font-size="9" text-anchor="start" font-weight="normal" fill="#222" stroke="#222" stroke-width="0.18" textLength="16.7" lengthAdjust="spacingAndGlyphs" >+38</text>
<path d="M125.8,491.3 L125.8,482.8 M123.3,480.6 L125.8,482.8 L128.3,480.6" fill="none" stroke="#1a1a1a" stroke-width="1.35" stroke-linejoin="round" stroke-linecap="round"/>
<text x="132.5" y="489" font-size="9" text-anchor="start" font-weight="normal" fill="#222" stroke="#222" stroke-width="0.18" textLength="38.2" lengthAdjust="spacingAndGlyphs" >-CpG site</text>
<text x="114.5" y="506.3" font-size="9.4" text-anchor="start" font-weight="normal" fill="#222" stroke="#222" stroke-width="0.18" textLength="72.5" lengthAdjust="spacingAndGlyphs" >TSS -Transcription</text>
<text x="137.5" y="517.5" font-size="9.4" text-anchor="start" font-weight="normal" fill="#222" stroke="#222" stroke-width="0.18" textLength="34.2" lengthAdjust="spacingAndGlyphs" >start site</text>
<text x="18.3" y="549.3" font-size="13.2" text-anchor="start" font-weight="bold" fill="#000" stroke="#000" stroke-width="0.35">H</text>
<defs><filter id="bl" x="-20%" y="-100%" width="140%" height="300%"><feGaussianBlur stdDeviation="0.85"/></filter></defs>
<line x1="60" y1="586.5" x2="60" y2="671.85" stroke="#222" stroke-width="1.4" />
<line x1="59.3" y1="671.25" x2="117.7" y2="671.25" stroke="#222" stroke-width="1.4" />
<line x1="56.6" y1="671.25" x2="60" y2="671.25" stroke="#222" stroke-width="1.2" />
<text x="52.4" y="674.25" font-size="8.2" text-anchor="end" font-weight="normal" fill="#222" stroke="#222" stroke-width="0.18" textLength="12.0" lengthAdjust="spacingAndGlyphs" >0.0</text>
<line x1="56.6" y1="643.25" x2="60" y2="643.25" stroke="#222" stroke-width="1.2" />
<text x="52.4" y="646.25" font-size="8.2" text-anchor="end" font-weight="normal" fill="#222" stroke="#222" stroke-width="0.18" textLength="12.0" lengthAdjust="spacingAndGlyphs" >0.5</text>
<line x1="56.6" y1="615.5" x2="60" y2="615.5" stroke="#222" stroke-width="1.2" />
<text x="52.4" y="618.5" font-size="8.2" text-anchor="end" font-weight="normal" fill="#222" stroke="#222" stroke-width="0.18" textLength="12.0" lengthAdjust="spacingAndGlyphs" >1.0</text>
<line x1="56.6" y1="587.4" x2="60" y2="587.4" stroke="#222" stroke-width="1.2" />
<text x="52.4" y="590.4" font-size="8.2" text-anchor="end" font-weight="normal" fill="#222" stroke="#222" stroke-width="0.18" textLength="12.0" lengthAdjust="spacingAndGlyphs" >1.5</text>
<text x="88" y="567.4" font-size="8.8" text-anchor="middle" font-weight="normal" fill="#222" stroke="#222" stroke-width="0.18" textLength="43.5" lengthAdjust="spacingAndGlyphs" >Amplicon 1</text>
<text x="88" y="578.2" font-size="8.8" text-anchor="middle" font-weight="normal" fill="#222" stroke="#222" stroke-width="0.18" textLength="62" lengthAdjust="spacingAndGlyphs" >(−888 to −638)</text>
<circle cx="70.75" cy="611.25" r="2.6" fill="#0f4a84" stroke="none" stroke-width="1.2"/>
<circle cx="75" cy="614.25" r="2.6" fill="#0f4a84" stroke="none" stroke-width="1.2"/>
<circle cx="81.25" cy="615.75" r="2.6" fill="#0f4a84" stroke="none" stroke-width="1.2"/>
<circle cx="70.75" cy="619.25" r="2.6" fill="#0f4a84" stroke="none" stroke-width="1.2"/>
<circle cx="100.75" cy="618" r="2.6" fill="#c50022" stroke="none" stroke-width="1.2"/>
<circle cx="95" cy="633.75" r="2.6" fill="#c50022" stroke="none" stroke-width="1.2"/>
<circle cx="100.75" cy="630.75" r="2.6" fill="#c50022" stroke="none" stroke-width="1.2"/>
<circle cx="106.25" cy="633.75" r="2.6" fill="#c50022" stroke="none" stroke-width="1.2"/>
<line x1="67.5" y1="615" x2="82.5" y2="615" stroke="#222" stroke-width="1.3" />
<line x1="93" y1="630" x2="108.75" y2="630" stroke="#222" stroke-width="1.3" />
<line x1="100.875" y1="625.75" x2="100.875" y2="630" stroke="#222" stroke-width="1.2" />
<line x1="97.675" y1="625.75" x2="104.075" y2="625.75" stroke="#222" stroke-width="1.2" />
<line x1="75" y1="604.5" x2="102" y2="604.5" stroke="#222" stroke-width="1.2" />
<text x="88.5" y="604.4" font-size="11" text-anchor="middle" font-weight="bold" fill="#222" stroke="#222" stroke-width="0.18" >*</text>
<text transform="translate(20.700000000000003,627.3) rotate(-90)" x="0" y="0" font-size="11" text-anchor="middle" fill="#222" stroke="#222" stroke-width="0.42" textLength="39.2" lengthAdjust="spacingAndGlyphs">Methylation</text>
<text transform="translate(32.7,627.3) rotate(-90)" x="0" y="0" font-size="11" text-anchor="middle" fill="#222" stroke="#222" stroke-width="0.42" textLength="39.4" lengthAdjust="spacingAndGlyphs">fold change</text>
<rect x="55.1" y="674.2" width="67.19999999999999" height="32.19999999999993" fill="#0a0a0a"/>
<rect x="55.1" y="709.2" width="67.19999999999999" height="30.299999999999955" fill="#0a0a0a"/>
<rect x="62" y="688.8" width="21" height="4.0" rx="1.6" fill="#f6f6f6" filter="url(#bl)"/>
<rect x="90.3" y="687.0999999999999" width="22.799999999999997" height="3.4" rx="1.6" fill="#a8a8a8" filter="url(#bl)"/>
<rect x="62" y="725.1" width="22.599999999999994" height="3.8" rx="1.6" fill="#cfcfcf" filter="url(#bl)"/>
<rect x="91.5" y="725.1" width="23.900000000000006" height="3.8" rx="1.6" fill="#cfcfcf" filter="url(#bl)"/>
<text transform="translate(77.3,746.9) rotate(-90)" font-size="9" text-anchor="end" fill="#222" stroke="#222" stroke-width="0.18">T</text>
<text transform="translate(110.3,746.9) rotate(-90)" font-size="9" text-anchor="end" fill="#222" stroke="#222" stroke-width="0.18" textLength="28" lengthAdjust="spacingAndGlyphs">T+aPC</text>
<text x="52.800000000000004" y="697.9" font-size="10.5" text-anchor="end" font-weight="normal" fill="#222" stroke="#222" stroke-width="0.18" textLength="44.4" lengthAdjust="spacingAndGlyphs" >M<tspan font-style="italic">FOXP3</tspan></text>
<text x="52.800000000000004" y="725.2" font-size="10.5" text-anchor="end" font-weight="normal" fill="#222" stroke="#222" stroke-width="0.18" textLength="43" lengthAdjust="spacingAndGlyphs" >U<tspan font-style="italic">FOXP3</tspan></text>
<line x1="192.5" y1="588.5" x2="192.5" y2="673.1" stroke="#222" stroke-width="1.4" />
<line x1="191.8" y1="672.5" x2="251.75" y2="672.5" stroke="#222" stroke-width="1.4" />
<line x1="189.1" y1="672.5" x2="192.5" y2="672.5" stroke="#222" stroke-width="1.2" />
<text x="184.9" y="675.5" font-size="8.2" text-anchor="end" font-weight="normal" fill="#222" stroke="#222" stroke-width="0.18" textLength="12.0" lengthAdjust="spacingAndGlyphs" >0.0</text>
<line x1="189.1" y1="645.5" x2="192.5" y2="645.5" stroke="#222" stroke-width="1.2" />
<text x="184.9" y="648.5" font-size="8.2" text-anchor="end" font-weight="normal" fill="#222" stroke="#222" stroke-width="0.18" textLength="12.0" lengthAdjust="spacingAndGlyphs" >0.5</text>
<line x1="189.1" y1="618.75" x2="192.5" y2="618.75" stroke="#222" stroke-width="1.2" />
<text x="184.9" y="621.75" font-size="8.2" text-anchor="end" font-weight="normal" fill="#222" stroke="#222" stroke-width="0.18" textLength="12.0" lengthAdjust="spacingAndGlyphs" >1.0</text>
<line x1="189.1" y1="591.25" x2="192.5" y2="591.25" stroke="#222" stroke-width="1.2" />
<text x="184.9" y="594.25" font-size="8.2" text-anchor="end" font-weight="normal" fill="#222" stroke="#222" stroke-width="0.18" textLength="12.0" lengthAdjust="spacingAndGlyphs" >1.5</text>
<text x="222.3" y="570.1" font-size="8.8" text-anchor="middle" font-weight="normal" fill="#222" stroke="#222" stroke-width="0.18" textLength="43.5" lengthAdjust="spacingAndGlyphs" >Amplicon 2</text>
<text x="222.3" y="581.3" font-size="8.8" text-anchor="middle" font-weight="normal" fill="#222" stroke="#222" stroke-width="0.18" textLength="55.2" lengthAdjust="spacingAndGlyphs" >(−282 to −70)</text>
<circle cx="203.75" cy="620.5" r="2.6" fill="#0f4a84" stroke="none" stroke-width="1.2"/>
<circle cx="209.25" cy="617.5" r="2.6" fill="#0f4a84" stroke="none" stroke-width="1.2"/>
<circle cx="215" cy="615" r="2.6" fill="#0f4a84" stroke="none" stroke-width="1.2"/>
<circle cx="214.5" cy="620.75" r="2.6" fill="#0f4a84" stroke="none" stroke-width="1.2"/>
<circle cx="233" cy="628.25" r="2.6" fill="#c50022" stroke="none" stroke-width="1.2"/>
<circle cx="228" cy="642.5" r="2.6" fill="#c50022" stroke="none" stroke-width="1.2"/>
<circle cx="233" cy="635.75" r="2.6" fill="#c50022" stroke="none" stroke-width="1.2"/>
<circle cx="239" cy="639.5" r="2.6" fill="#c50022" stroke="none" stroke-width="1.2"/>
<line x1="201" y1="618.75" x2="218" y2="618.75" stroke="#222" stroke-width="1.3" />
<line x1="226" y1="636.25" x2="241" y2="636.25" stroke="#222" stroke-width="1.3" />
<line x1="233.5" y1="632.5" x2="233.5" y2="636.25" stroke="#222" stroke-width="1.2" />
<line x1="230.3" y1="632.5" x2="236.7" y2="632.5" stroke="#222" stroke-width="1.2" />
<line x1="214.5" y1="607" x2="231.75" y2="607" stroke="#222" stroke-width="1.2" />
<text x="223.125" y="606.9" font-size="11" text-anchor="middle" font-weight="bold" fill="#222" stroke="#222" stroke-width="0.18" >**</text>
<text transform="translate(153.2,628.7) rotate(-90)" x="0" y="0" font-size="11" text-anchor="middle" fill="#222" stroke="#222" stroke-width="0.42" textLength="39.2" lengthAdjust="spacingAndGlyphs">Methylation</text>
<text transform="translate(165.2,628.7) rotate(-90)" x="0" y="0" font-size="11" text-anchor="middle" fill="#222" stroke="#222" stroke-width="0.42" textLength="39.4" lengthAdjust="spacingAndGlyphs">fold change</text>
<rect x="191.1" y="675.5" width="60.650000000000006" height="31.100000000000023" fill="#0a0a0a"/>
<rect x="191.1" y="709.8" width="60.650000000000006" height="31.5" fill="#0a0a0a"/>
<rect x="197" y="690.8" width="21" height="5.4" rx="1.6" fill="#ffffff" filter="url(#bl)"/>
<rect x="223.75" y="691.8000000000001" width="22.5" height="3.8" rx="1.6" fill="#d4d4d4" filter="url(#bl)"/>
<rect x="196.8" y="723.4" width="21.799999999999983" height="5.2" rx="1.6" fill="#fafafa" filter="url(#bl)"/>
<rect x="223.8" y="723.1999999999999" width="23.399999999999977" height="5.2" rx="1.6" fill="#fafafa" filter="url(#bl)"/>
<text transform="translate(209.9,746.9) rotate(-90)" font-size="9" text-anchor="end" fill="#222" stroke="#222" stroke-width="0.18">T</text>
<text transform="translate(242.9,746.9) rotate(-90)" font-size="9" text-anchor="end" fill="#222" stroke="#222" stroke-width="0.18" textLength="28" lengthAdjust="spacingAndGlyphs">T+aPC</text>
<text x="188.79999999999998" y="697.9" font-size="10.5" text-anchor="end" font-weight="normal" fill="#222" stroke="#222" stroke-width="0.18" textLength="44.4" lengthAdjust="spacingAndGlyphs" >M<tspan font-style="italic">FOXP3</tspan></text>
<text x="188.79999999999998" y="725.2" font-size="10.5" text-anchor="end" font-weight="normal" fill="#222" stroke="#222" stroke-width="0.18" textLength="43" lengthAdjust="spacingAndGlyphs" >U<tspan font-style="italic">FOXP3</tspan></text>
<line x1="317.8" y1="590" x2="317.8" y2="673.85" stroke="#222" stroke-width="1.4" />
<line x1="317.1" y1="673.25" x2="376.25" y2="673.25" stroke="#222" stroke-width="1.4" />
<line x1="314.40000000000003" y1="673.25" x2="317.8" y2="673.25" stroke="#222" stroke-width="1.2" />
<text x="310.2" y="676.25" font-size="8.2" text-anchor="end" font-weight="normal" fill="#222" stroke="#222" stroke-width="0.18" textLength="12.0" lengthAdjust="spacingAndGlyphs" >0.0</text>
<line x1="314.40000000000003" y1="646.5" x2="317.8" y2="646.5" stroke="#222" stroke-width="1.2" />
<text x="310.2" y="649.5" font-size="8.2" text-anchor="end" font-weight="normal" fill="#222" stroke="#222" stroke-width="0.18" textLength="12.0" lengthAdjust="spacingAndGlyphs" >0.5</text>
<line x1="314.40000000000003" y1="620" x2="317.8" y2="620" stroke="#222" stroke-width="1.2" />
<text x="310.2" y="623.0" font-size="8.2" text-anchor="end" font-weight="normal" fill="#222" stroke="#222" stroke-width="0.18" textLength="12.0" lengthAdjust="spacingAndGlyphs" >1.0</text>
<line x1="314.40000000000003" y1="593.25" x2="317.8" y2="593.25" stroke="#222" stroke-width="1.2" />
<text x="310.2" y="596.25" font-size="8.2" text-anchor="end" font-weight="normal" fill="#222" stroke="#222" stroke-width="0.18" textLength="12.0" lengthAdjust="spacingAndGlyphs" >1.5</text>
<text x="347.2" y="572.2" font-size="8.8" text-anchor="middle" font-weight="normal" fill="#222" stroke="#222" stroke-width="0.18" textLength="43.5" lengthAdjust="spacingAndGlyphs" >Amplicon 3</text>
<text x="347.2" y="582.9" font-size="8.8" text-anchor="middle" font-weight="normal" fill="#222" stroke="#222" stroke-width="0.18" textLength="56.6" lengthAdjust="spacingAndGlyphs" >(−139 to −11)</text>
<circle cx="333.75" cy="610" r="2.6" fill="#0f4a84" stroke="none" stroke-width="1.2"/>
<circle cx="328.25" cy="625.75" r="2.6" fill="#0f4a84" stroke="none" stroke-width="1.2"/>
<circle cx="333.75" cy="621.25" r="2.6" fill="#0f4a84" stroke="none" stroke-width="1.2"/>
<circle cx="339.25" cy="622" r="2.6" fill="#0f4a84" stroke="none" stroke-width="1.2"/>
<circle cx="352" cy="630" r="2.6" fill="#c50022" stroke="none" stroke-width="1.2"/>
<circle cx="357" cy="632.5" r="2.6" fill="#c50022" stroke="none" stroke-width="1.2"/>
<circle cx="351.25" cy="647" r="2.6" fill="#c50022" stroke="none" stroke-width="1.2"/>
<circle cx="362.5" cy="642.5" r="2.6" fill="#c50022" stroke="none" stroke-width="1.2"/>
<line x1="326" y1="620" x2="342" y2="620" stroke="#222" stroke-width="1.3" />
<line x1="334.0" y1="616.25" x2="334.0" y2="620" stroke="#222" stroke-width="1.2" />
<line x1="330.8" y1="616.25" x2="337.2" y2="616.25" stroke="#222" stroke-width="1.2" />
<line x1="348" y1="638.25" x2="364" y2="638.25" stroke="#222" stroke-width="1.3" />
<line x1="356.0" y1="635" x2="356.0" y2="638.25" stroke="#222" stroke-width="1.2" />
<line x1="352.8" y1="635" x2="359.2" y2="635" stroke="#222" stroke-width="1.2" />
<line x1="334.25" y1="601.25" x2="358.75" y2="601.25" stroke="#222" stroke-width="1.2" />
<text x="346.5" y="601.15" font-size="11" text-anchor="middle" font-weight="bold" fill="#222" stroke="#222" stroke-width="0.18" >*</text>
<text transform="translate(278.5,630) rotate(-90)" x="0" y="0" font-size="11" text-anchor="middle" fill="#222" stroke="#222" stroke-width="0.42" textLength="39.2" lengthAdjust="spacingAndGlyphs">Methylation</text>
<text transform="translate(290.5,630) rotate(-90)" x="0" y="0" font-size="11" text-anchor="middle" fill="#222" stroke="#222" stroke-width="0.42" textLength="39.4" lengthAdjust="spacingAndGlyphs">fold change</text>
<rect x="310.6" y="676.5" width="71.29999999999995" height="33.10000000000002" fill="#0a0a0a"/>
<rect x="310.6" y="712.2" width="71.29999999999995" height="31.199999999999932" fill="#0a0a0a"/>
<rect x="324.8" y="692.1" width="19.399999999999977" height="4.8" rx="1.6" fill="#fcfcfc" filter="url(#bl)"/>
<rect x="350.9" y="693.0999999999999" width="20.5" height="3.4" rx="1.6" fill="#d0d0d0" filter="url(#bl)"/>
<rect x="323.7" y="724.9" width="18.5" height="3.4" rx="1.6" fill="#c8c8c8" filter="url(#bl)"/>
<rect x="350.6" y="724.5" width="18.899999999999977" height="3.4" rx="1.6" fill="#d8d8d8" filter="url(#bl)"/>
<text transform="translate(331.7,746.9) rotate(-90)" font-size="9" text-anchor="end" fill="#222" stroke="#222" stroke-width="0.18">T</text>
<text transform="translate(365.4,746.9) rotate(-90)" font-size="9" text-anchor="end" fill="#222" stroke="#222" stroke-width="0.18" textLength="28" lengthAdjust="spacingAndGlyphs">T+aPC</text>
<line x1="449.25" y1="588.5" x2="449.25" y2="674.85" stroke="#222" stroke-width="1.4" />
<line x1="448.55" y1="674.25" x2="506.25" y2="674.25" stroke="#222" stroke-width="1.4" />
<line x1="445.85" y1="674.25" x2="449.25" y2="674.25" stroke="#222" stroke-width="1.2" />
<text x="441.65" y="677.25" font-size="8.2" text-anchor="end" font-weight="normal" fill="#222" stroke="#222" stroke-width="0.18" textLength="12.0" lengthAdjust="spacingAndGlyphs" >0.0</text>
<line x1="445.85" y1="653.25" x2="449.25" y2="653.25" stroke="#222" stroke-width="1.2" />
<text x="441.65" y="656.25" font-size="8.2" text-anchor="end" font-weight="normal" fill="#222" stroke="#222" stroke-width="0.18" textLength="12.0" lengthAdjust="spacingAndGlyphs" >0.5</text>
<line x1="445.85" y1="632.5" x2="449.25" y2="632.5" stroke="#222" stroke-width="1.2" />
<text x="441.65" y="635.5" font-size="8.2" text-anchor="end" font-weight="normal" fill="#222" stroke="#222" stroke-width="0.18" textLength="12.0" lengthAdjust="spacingAndGlyphs" >1.0</text>
<line x1="445.85" y1="612" x2="449.25" y2="612" stroke="#222" stroke-width="1.2" />
<text x="441.65" y="615.0" font-size="8.2" text-anchor="end" font-weight="normal" fill="#222" stroke="#222" stroke-width="0.18" textLength="12.0" lengthAdjust="spacingAndGlyphs" >1.5</text>
<line x1="445.85" y1="591.25" x2="449.25" y2="591.25" stroke="#222" stroke-width="1.2" />
<text x="441.65" y="594.25" font-size="8.2" text-anchor="end" font-weight="normal" fill="#222" stroke="#222" stroke-width="0.18" textLength="12.0" lengthAdjust="spacingAndGlyphs" >2.0</text>
<text x="477.9" y="570.1" font-size="8.8" text-anchor="middle" font-weight="normal" fill="#222" stroke="#222" stroke-width="0.18" textLength="43.5" lengthAdjust="spacingAndGlyphs" >Amplicon 4</text>
<text x="477.9" y="581.3" font-size="8.8" text-anchor="middle" font-weight="normal" fill="#222" stroke="#222" stroke-width="0.18" textLength="57.2" lengthAdjust="spacingAndGlyphs" >(−275 to +38)</text>
<circle cx="465" cy="614.5" r="2.6" fill="#0f4a84" stroke="none" stroke-width="1.2"/>
<circle cx="470.5" cy="612.5" r="2.6" fill="#0f4a84" stroke="none" stroke-width="1.2"/>
<circle cx="459.5" cy="639.5" r="2.6" fill="#0f4a84" stroke="none" stroke-width="1.2"/>
<circle cx="470.5" cy="638.25" r="2.6" fill="#0f4a84" stroke="none" stroke-width="1.2"/>
<circle cx="490" cy="648" r="2.6" fill="#c50022" stroke="none" stroke-width="1.2"/>
<circle cx="495.5" cy="646.25" r="2.6" fill="#c50022" stroke="none" stroke-width="1.2"/>
<circle cx="490" cy="662" r="2.6" fill="#c50022" stroke="none" stroke-width="1.2"/>
<circle cx="489.5" cy="672" r="2.6" fill="#c50022" stroke="none" stroke-width="1.2"/>
<line x1="457.5" y1="626.25" x2="473.25" y2="626.25" stroke="#222" stroke-width="1.3" />
<line x1="465.375" y1="618.75" x2="465.375" y2="626.25" stroke="#222" stroke-width="1.2" />
<line x1="462.175" y1="618.75" x2="468.575" y2="618.75" stroke="#222" stroke-width="1.2" />
<line x1="482" y1="656.75" x2="498" y2="656.75" stroke="#222" stroke-width="1.3" />
<line x1="490.0" y1="650" x2="490.0" y2="656.75" stroke="#222" stroke-width="1.2" />
<line x1="486.8" y1="650" x2="493.2" y2="650" stroke="#222" stroke-width="1.2" />
<line x1="465.75" y1="603.25" x2="489.5" y2="603.25" stroke="#222" stroke-width="1.2" />
<text x="477.625" y="603.15" font-size="11" text-anchor="middle" font-weight="bold" fill="#222" stroke="#222" stroke-width="0.18" >*</text>
<text transform="translate(409.95,630.5) rotate(-90)" x="0" y="0" font-size="11" text-anchor="middle" fill="#222" stroke="#222" stroke-width="0.42" textLength="39.2" lengthAdjust="spacingAndGlyphs">Methylation</text>
<text transform="translate(421.95,630.5) rotate(-90)" x="0" y="0" font-size="11" text-anchor="middle" fill="#222" stroke="#222" stroke-width="0.42" textLength="39.4" lengthAdjust="spacingAndGlyphs">fold change</text>
<rect x="442.8" y="677" width="69.0" height="28.899999999999977" fill="#161616"/>
<rect x="442.8" y="709.3" width="69.0" height="28.600000000000023" fill="#0e0e0e"/>
<rect x="450" y="691.0" width="23" height="3.8" rx="1.6" fill="#e8e8e8" filter="url(#bl)"/>
<rect x="482.5" y="690.3" width="23.80000000000001" height="3" rx="1.6" fill="#505050" filter="url(#bl)"/>
<rect x="446.3" y="725.4" width="25.69999999999999" height="4.4" rx="1.6" fill="#f8f8f8" filter="url(#bl)"/>
<rect x="480.3" y="724.1999999999999" width="26.19999999999999" height="4.4" rx="1.6" fill="#f8f8f8" filter="url(#bl)"/>
<text transform="translate(463.9,746.9) rotate(-90)" font-size="9" text-anchor="end" fill="#222" stroke="#222" stroke-width="0.18">T</text>
<text transform="translate(496.9,746.9) rotate(-90)" font-size="9" text-anchor="end" fill="#222" stroke="#222" stroke-width="0.18" textLength="28" lengthAdjust="spacingAndGlyphs">T+aPC</text>
</svg>
<div class="frame"></div>
</body></html>
